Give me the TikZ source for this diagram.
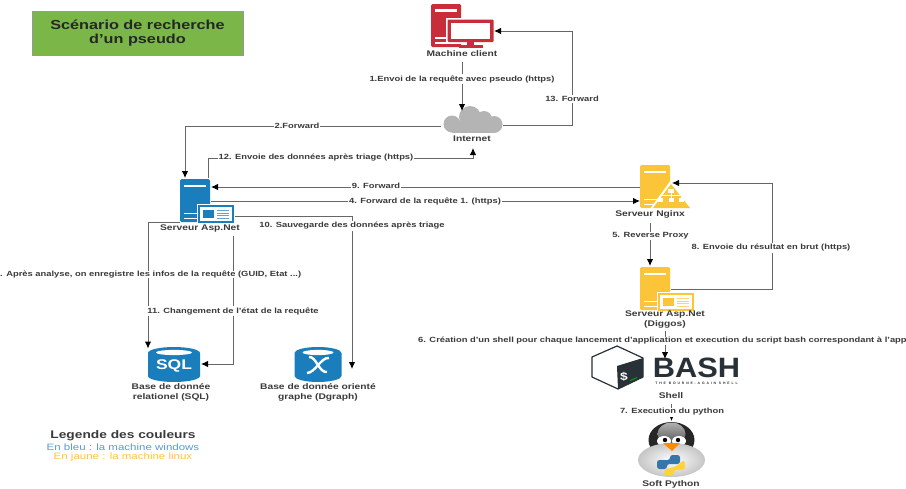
\documentclass[tikz,border=0pt]{standalone}
\usepackage{fontspec}
\setmainfont[FakeStretch=1.25]{Liberation Sans}
\newfontfamily\bashfont[FakeStretch=1.1]{Liberation Sans}
\newfontfamily\tagfont[LetterSpace=55]{Liberation Sans}
\usepackage{xcolor}
\usepackage{tikz}
\usetikzlibrary{arrows.meta,positioning,calc}
\definecolor{titlegreen}{HTML}{7AB648}
\definecolor{clientred}{HTML}{C92D39}
\definecolor{winblue}{HTML}{1A7DBC}
\definecolor{linuxyellow}{HTML}{FCC438}
\definecolor{cloudgray}{HTML}{B4B4B4}
\definecolor{linegray}{HTML}{666666}
\definecolor{textgray}{HTML}{3A3A3A}
\definecolor{bashdark}{HTML}{293138}
\definecolor{pyblue}{HTML}{3776AB}
\definecolor{pyyellow}{HTML}{FFD43B}
\tikzset{
  slot/.style={inner sep=0pt, outer sep=0pt},
  devlbl/.style={align=center, font=\bfseries\fontsize{8.2}{9.4}\selectfont, text=textgray, inner sep=0pt, outer sep=5pt},
  edgelbl/.style={align=center, font=\bfseries\fontsize{7.5}{8.5}\selectfont, text=textgray, fill=white, inner sep=1pt},
  conn/.style={-{Latex[length=7pt,width=6.5pt,black]}, line width=1pt, draw=linegray},
  pics/tower/.style={code={
    \fill[#1, rounded corners=1.5pt] (0,0) rectangle (30,43);
    \fill[white] (4,6) rectangle (26,8);
    \fill[white] (4,34) rectangle (17,35.2);
    \fill[white] (4,38.5) rectangle (17,39.7);
  }},
  pics/webwin/.style={code={
    \fill[white] (-1.5,-1.5) rectangle (37.5,19.5);
    \fill[#1] (0,0) rectangle (36,18);
    \fill[white] (2,2) rectangle (34,16);
    \fill[#1] (5,5) rectangle (16,13);
    \foreach \rowy in {5,7.7,10.4,13} \fill[#1!70] (19,\rowy) rectangle (31,\rowy+1);
  }},
  pics/dbcyl/.style={code={
    \fill[winblue] (0,6) -- (0,29) arc[start angle=180, end angle=0, x radius=#1/2, y radius=6] -- (#1,6) arc[start angle=0, end angle=-180, x radius=#1/2, y radius=6] -- cycle;
    \fill[white] (#1/2,5.5) ellipse[x radius=#1/2-8, y radius=2.6];
  }}
}
\begin{document}
\begin{tikzpicture}[x=1pt,y=-1pt]
  \useasboundingbox (0,0) rectangle (906,488);
  % title
  \node[slot, draw=gray!80, fill=titlegreen, minimum width=211pt, minimum height=44pt, align=center, font=\bfseries\fontsize{13}{14}\selectfont, text=black!85] (title) at (137.5,33) {Scénario de recherche\\d'un pseudo};
  % client
  \node[slot, minimum width=62pt, minimum height=44pt] (client) at (462,26) {};
  \fill[clientred, rounded corners=1.5pt] (431,4) rectangle (461,47);
  \fill[white] (435,9) rectangle (457,12);
  \fill[white] (435,37) rectangle (446,38.5);
  \fill[white] (435,42) rectangle (446,43.5);
  \fill[white] (446,18) rectangle (495,44);
  \fill[clientred, rounded corners=1pt] (447.5,19.5) rectangle (493.5,42);
  \fill[white] (451,23) rectangle (490,38.5);
  \fill[clientred] (467,42) rectangle (474,45);
  \fill[clientred] (459,45) rectangle (483,47.5);
  \node[devlbl] (clientlbl) at (462,54) {Machine client};
  % cloud
  \node[slot, minimum width=62pt, minimum height=27pt] (cloud) at (472,119.5) {};
  \fill[cloudgray] (452,124) circle[radius=8.5];
  \fill[cloudgray] (470,117) circle[radius=11];
  \fill[cloudgray] (484,119) circle[radius=8];
  \fill[cloudgray] (494,124.5) circle[radius=8.5];
  \fill[cloudgray] (452,122) rectangle (494,133);
  \node[devlbl] (cloudlbl) at (472,138.5) {Internet};
  % windows servers
  \node[slot, minimum width=30pt, minimum height=43pt] (asp) at (195,200.5) {};
  \pic at (180,179) {tower=winblue};
  \pic at (198,205) {webwin=winblue};
  \node[devlbl] (asplbl) at (200,228) {Serveur Asp.Net};
  \node[slot, minimum width=30pt, minimum height=43pt] (nginx) at (655,186.5) {};
  \pic at (640,165) {tower=linuxyellow};
  \fill[white] (671,180) -- (692,209) -- (650,209) -- cycle;
  \fill[linuxyellow] (671,184) -- (690,208) -- (653,208) -- cycle;
  \fill[white] (668,189) rectangle (674,193);
  \fill[white] (658,198) rectangle (663,202);
  \fill[white] (668.5,198) rectangle (673.5,202);
  \fill[white] (679,198) rectangle (684,202);
  \fill[white] (660,195) rectangle (682,196);
  \fill[white] (670.5,193) rectangle (671.5,198);
  \fill[white] (660,195) rectangle (661,198);
  \fill[white] (681,195) rectangle (682,198);
  \node[devlbl] (nginxlbl) at (650,214) {Serveur Nginx};
  \node[slot, minimum width=30pt, minimum height=43pt] (diggos) at (655,288.5) {};
  \pic at (640,267) {tower=linuxyellow};
  \pic at (658,293) {webwin=linuxyellow};
  \node[devlbl] (diggoslbl) at (665,319.5) {Serveur Asp.Net\\(Diggos)};
  % databases
  \node[slot, minimum width=52pt, minimum height=35pt] (sql) at (174,364.5) {};
  \pic at (148,347) {dbcyl=52};
  \node[slot, font=\bfseries\fontsize{14}{14}\selectfont, text=white] (sqltag) at (174,366) {SQL};
  \node[devlbl] (sqllbl) at (171,392.5) {Base de donnée\\relationel (SQL)};
  \node[slot, minimum width=47pt, minimum height=35pt] (dgraph) at (318,364.5) {};
  \pic at (294.5,347) {dbcyl=47};
  \draw[white, line width=2.4pt] (309,357) .. controls (316,356) and (319,373) .. (327,372);
  \draw[white, line width=2.4pt] (329,358) .. controls (321,357) and (315,373) .. (307,373);
  \node[devlbl] (dgraphlbl) at (318,392.5) {Base de donnée orienté\\graphe (Dgraph)};
  % bash logo
  \node[slot, minimum width=54pt, minimum height=44pt] (cube) at (618,368) {};
  \fill[white, draw=bashdark, line width=1.2pt, line join=round] (592,357) -- (617,346) -- (643,358) -- (643,377) -- (618,389) -- (592,377) -- cycle;
  \fill[bashdark] (617,366) -- (643,358) -- (643,377) -- (618,389) -- cycle;
  \node[slot, font=\bfseries\fontsize{11}{11}\selectfont, text=white] (dollar) at (624,377) {\$};
  \fill[green!60!black] (630,380) -- (637,377) -- (637,378.2) -- (630,381.2) -- cycle;
  \node[slot, font=\bashfont\bfseries\fontsize{28}{28}\selectfont, text=bashdark] (bashword) at (696.5,367.5) {BASH};
  \node[slot, font=\tagfont\bfseries\fontsize{3.4}{4}\selectfont, text=bashdark] (bashtag) at (696.5,383) {THE BOURNE-AGAIN SHELL};
  \node[devlbl] (shelllbl) at (671,396) {Shell};
  % penguin
  \node[slot, minimum width=67pt, minimum height=56pt] (penguin) at (671.5,451) {};
  \fill[black!85] (671.5,440) ellipse[x radius=23, y radius=18];
  \shade[top color=gray!60, bottom color=black!70] (671.5,434) ellipse[x radius=14, y radius=11.5];
  \fill[white] (664,441) ellipse[x radius=7, y radius=5];
  \fill[white] (679,441) ellipse[x radius=7, y radius=5];
  \fill[black] (665,440) circle[radius=2.2];
  \fill[black] (678,440) circle[radius=2.2];
  \shade[inner color=white, outer color=gray!45] (671.5,460) ellipse[x radius=33.5, y radius=17];
  \fill[orange!90!yellow] (663,443) -- (680,443) -- (672,451) -- cycle;
  \fill[pyblue, rounded corners=2.5pt] (657,469) -- (657,460) -- (670,460) -- (670,455) -- (680,455) -- (680,464) -- (667,464) -- (667,469) -- cycle;
  \fill[pyyellow, rounded corners=2.5pt] (685,461) -- (685,470) -- (674,470) -- (674,475) -- (664,475) -- (664,470) -- (677,466) -- (682,461) -- cycle;
  \node[devlbl] (pythonlbl) at (671,484) {Soft Python};
  % ports
  \coordinate (cloudin) at (462,111);
  \coordinate (cloudup) at (473,148);
  \coordinate (aspin) at (185,178);
  \coordinate (aspout) at (208,178);
  \coordinate (aspleft) at (180,222);
  \coordinate (sqlin) at (148,348.5);
  \coordinate (sqlside) at (201,364);
  \coordinate (aspdown) at (233.5,236);
  \coordinate (winright) at (235,216);
  \coordinate (dgraphin) at (352,369);
  \coordinate (clientin) at (494,31);
  \coordinate (nginxin) at (672,183);
  \coordinate (diggosout) at (671,289);
  \coordinate (aspnine) at (211,187);
  \coordinate (nginxnine) at (640,187);
  \coordinate (aspfour) at (211,201);
  \coordinate (nginxfour) at (640,201);
  \coordinate (nginxdown) at (650,223);
  \coordinate (diggosin) at (650,266);
  \coordinate (diggosdown) at (665,331);
  \coordinate (bashin) at (665,359);
  \coordinate (shelldown) at (671.5,404);
  \coordinate (pythonin) at (671.5,421);
  % connectors
  \draw[conn] (clientlbl.south) -- (cloudin);
  \draw[conn] (cloud.west |- 0,126) -| (aspin);
  \draw[conn] (aspout) |- (473,158) -- (cloudup);
  \draw[conn] (cloud.east |- 0,125) -| (572,31) -- (clientin);
  \draw[conn] (nginxnine) -- (aspnine);
  \draw[conn] (aspfour) -- (nginxfour);
  \draw[conn] (nginxdown) -- (diggosin);
  \draw[conn] (diggosout) -| (772,183) -- (nginxin);
  \draw[conn] (diggosdown) -- (bashin);
  \draw[conn] (shelldown) -- (pythonin);
  \draw[conn] (aspleft) -| (sqlin);
  \draw[conn] (aspdown) |- (sqlside);
  \draw[conn] (winright) -| (dgraphin);
  % edge labels
  \node[edgelbl] (step1) at (462,79) {1.Envoi de la requête avec pseudo (https)};
  \node[edgelbl] (step2) at (297,126) {2.Forward};
  \node[edgelbl, anchor=west, inner sep=0pt] (step3) at (0,274.5) {. Après analyse, on enregistre les infos de la requête (GUID, Etat ...)};
  \node[edgelbl] (step4) at (425,201) {4. Forward de la requête 1. (https)};
  \node[edgelbl] (step5) at (650.5,236) {5. Reverse Proxy};
  \node[edgelbl, anchor=west, inner sep=0pt] (step6) at (418,341) {6. Création d'un shell pour chaque lancement d'application et execution du script bash correspondant à l'app};
  \node[edgelbl] (step7) at (672,412) {7. Execution du python};
  \node[edgelbl] (step8) at (771,248) {8. Envoie du résultat en brut (https)};
  \node[edgelbl] (step9) at (376,186) {9. Forward};
  \node[edgelbl] (step10) at (352,226) {10. Sauvegarde des données après triage};
  \node[edgelbl] (step11) at (233,311) {11. Changement de l'état de la requête};
  \node[edgelbl] (step12) at (316,158) {12. Envoie des données après triage (https)};
  \node[edgelbl] (step13) at (572,99) {13. Forward};
  % legend
  \node[slot, font=\bfseries\fontsize{11}{12}\selectfont, text=textgray] (legendhead) at (123,436) {Legende des couleurs};
  \node[slot, font=\fontsize{9.2}{10}\selectfont, text=winblue!75] (legendblue) at (123,447.5) {En bleu : la machine windows};
  \node[slot, font=\fontsize{9.2}{10}\selectfont, text=linuxyellow] (legendyellow) at (123,457.5) {En jaune : la machine linux};
\end{tikzpicture}
\end{document}
